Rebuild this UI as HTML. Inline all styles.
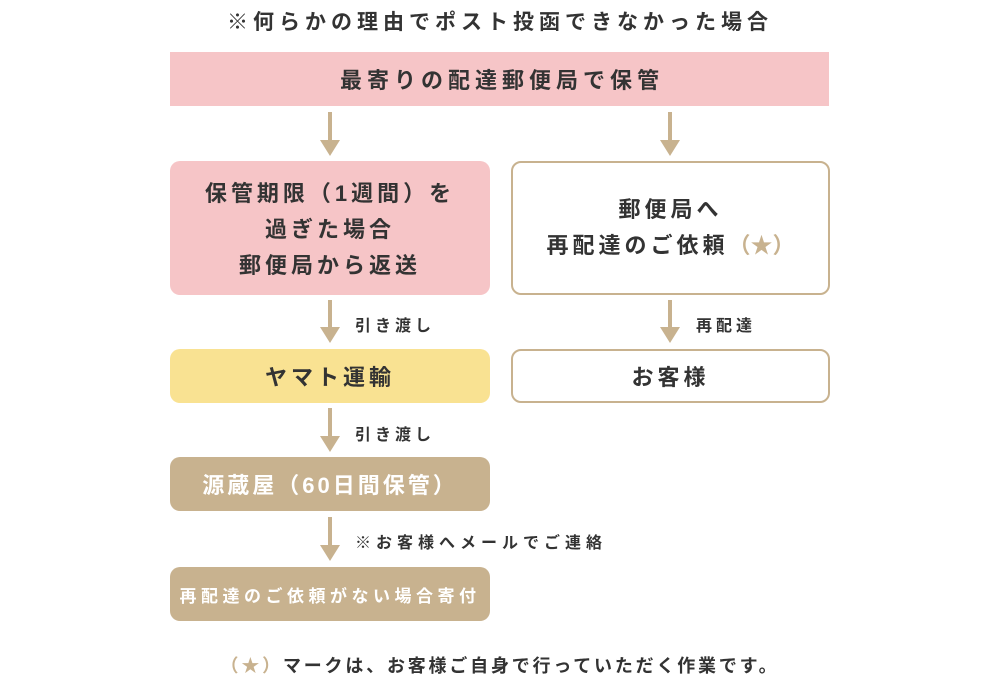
<!DOCTYPE html>
<html><head><meta charset="utf-8"><style>
body{margin:0;width:1000px;height:680px;background:#fff;position:relative;overflow:hidden;font-family:"Liberation Sans","Noto Sans CJK JP",sans-serif;font-weight:bold;color:#333}
.a{position:absolute;white-space:nowrap}
.box{position:absolute;display:flex;align-items:center;justify-content:center;text-align:center;box-sizing:border-box;white-space:nowrap}
.sh{position:absolute;width:4px;background:#c8b28f}
.hd{position:absolute;width:0;height:0;border-left:10px solid transparent;border-right:10px solid transparent;border-top:16px solid #c8b28f}
.lb{position:absolute;font-size:16px;letter-spacing:4px;white-space:nowrap}
</style></head><body>
<div class="a" style="left:0;width:1000px;top:6px;text-align:center;font-size:21px;letter-spacing:5px">※何らかの理由でポスト投函できなかった場合</div>
<div class="box" style="left:170px;top:52px;width:659px;height:54px;background:#f6c5c7;font-size:22px;letter-spacing:5px;padding-left:5px">最寄りの配達郵便局で保管</div>

<div class="sh" style="left:328px;top:112px;height:28px"></div><div class="hd" style="left:320px;top:140px"></div>
<div class="sh" style="left:668px;top:112px;height:28px"></div><div class="hd" style="left:660px;top:140px"></div>

<div class="box" style="left:170px;top:161px;width:320px;height:134px;background:#f6c5c7;border-radius:10px;font-size:22px;line-height:36px;letter-spacing:4px;padding-top:4px"><div>保管期限（1週間）を<br>過ぎた場合<br>郵便局から返送</div></div>
<div class="box" style="left:511px;top:161px;width:319px;height:134px;border:2.5px solid #c8b28f;border-radius:10px;font-size:22px;line-height:36px;letter-spacing:4px"><div>郵便局へ<br>再配達のご依頼<span style="color:#c8b28f;letter-spacing:0">（★）</span></div></div>

<div class="sh" style="left:328px;top:300px;height:27px"></div><div class="hd" style="left:320px;top:327px"></div>
<div class="lb" style="left:355px;top:312px">引き渡し</div>
<div class="sh" style="left:668px;top:300px;height:27px"></div><div class="hd" style="left:660px;top:327px"></div>
<div class="lb" style="left:696px;top:312px">再配達</div>

<div class="box" style="left:170px;top:349px;width:320px;height:54px;background:#f9e292;border-radius:10px;font-size:22px;letter-spacing:4px">ヤマト運輸</div>
<div class="box" style="left:511px;top:349px;width:319px;height:54px;border:2.5px solid #c8b28f;border-radius:10px;font-size:22px;letter-spacing:4px">お客様</div>

<div class="sh" style="left:328px;top:408px;height:28px"></div><div class="hd" style="left:320px;top:436px"></div>
<div class="lb" style="left:355px;top:421px">引き渡し</div>

<div class="box" style="left:170px;top:457px;width:320px;height:54px;background:#c8b28f;border-radius:10px;font-size:22px;color:#fff;letter-spacing:3px">源蔵屋（60日間保管）</div>

<div class="sh" style="left:328px;top:517px;height:28px"></div><div class="hd" style="left:320px;top:545px"></div>
<div class="lb" style="left:355px;top:529px;letter-spacing:5px">※お客様へメールでご連絡</div>

<div class="box" style="left:170px;top:567px;width:320px;height:54px;background:#c8b28f;border-radius:10px;font-size:17px;color:#fff;letter-spacing:4.5px">再配達のご依頼がない場合寄付</div>

<div class="a" style="left:0;width:1000px;top:652px;text-align:center;font-size:18px;letter-spacing:2.8px"><span style="color:#c8b28f">（★）</span>マークは、お客様ご自身で行っていただく作業です。</div>
</body></html>
